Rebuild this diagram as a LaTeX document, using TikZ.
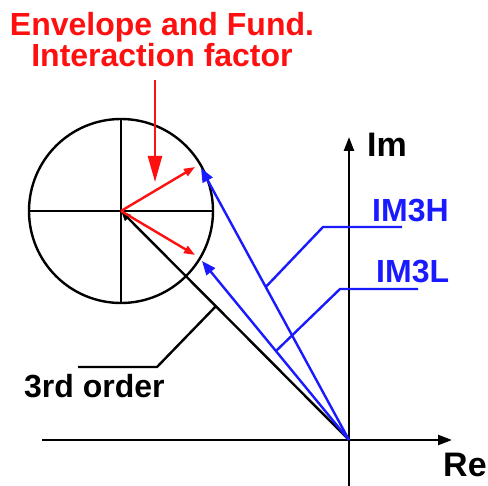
\documentclass[tikz,border=0pt]{standalone}
\usepackage{fontspec}
\setmainfont{Liberation Sans}
\usetikzlibrary{arrows.meta,positioning}
\definecolor{phasorRed}{HTML}{FF1010}
\definecolor{phasorBlue}{HTML}{1A1AFF}

\begin{document}
\begin{tikzpicture}[x=0.5pt,y=-0.5pt,line width=1.2pt,
    font=\fontsize{16}{15.5}\selectfont\bfseries,
    lbl/.style={inner sep=0pt,anchor=base west},
    axistip/.style={-{Triangle[length=7pt,width=5pt]}},
    bluetip/.style={phasorBlue,-{Triangle[length=7pt,width=5.5pt]}},
    redtip/.style={phasorRed,-{Triangle[length=5.5pt,width=4pt]}},
    blacktip/.style={-{Triangle[length=5pt,width=4pt]}}]
    \useasboundingbox (0,0) rectangle (488,486);

    % axes
    \coordinate (O) at (349,440);
    \coordinate (reL) at (42,440);
    \coordinate (reR) at (452,440);
    \coordinate (imB) at (349,490);
    \coordinate (imT) at (349,137);
    \draw[axistip] (reL) -- (reR);
    \draw[axistip] (imB) -- (imT);
    \node[lbl,font=\fontsize{17}{17}\selectfont\bfseries] (im) at (366,157) {Im};
    \node[lbl,font=\fontsize{17}{17}\selectfont\bfseries] (re) at (442,477) {Re};

    % envelope circle
    \node[draw,circle,minimum size=92pt,inner sep=0pt] (env) at (121,211) {};
    \draw (env.west) -- (env.east);
    \draw (env.north) -- (env.south);

    % phasors
    \coordinate (hu) at (201,168);
    \coordinate (hl) at (202,261);
    \coordinate (ru) at (195,167);
    \coordinate (rl) at (195,255);
    \draw[blacktip] (O) -- coordinate[pos=0.584] (bk) (env.center);
    \draw[bluetip] (O) -- coordinate[pos=0.5625] (hk) (hu);
    \draw[bluetip] (O) -- coordinate[pos=0.497] (lk) (hl);
    \draw[redtip] (env.center) -- (ru);
    \draw[redtip] (env.center) -- (rl);

    % interaction factor
    \node[phasorRed,align=center,inner sep=0pt] (title) at (162,39.5)
      {Envelope and Fund.\\Interaction factor};
    \coordinate (rtop) at (155,80);
    \coordinate (rbot) at (155,182);
    \draw[phasorRed,-{Triangle[length=13pt,width=7pt]}] (rtop) -- (rbot);

    % labels
    \node[lbl,phasorBlue] (im3h) at (371,222) {IM3H};
    \node[lbl,phasorBlue] (im3l) at (375,283) {IM3L};
    \node[lbl] (third) at (23,398) {3rd order};
    \draw[phasorBlue] ([shift={(31,5)}]im3h.base west) -- ++(-79,0) -- (hk);
    \draw[phasorBlue] ([shift={(43,6)}]im3l.base west) -- ++(-78,0) -- (lk);
    \draw ([shift={(55,-31)}]third.base west) -- ++(79,0) -- (bk);
\end{tikzpicture}
\end{document}
